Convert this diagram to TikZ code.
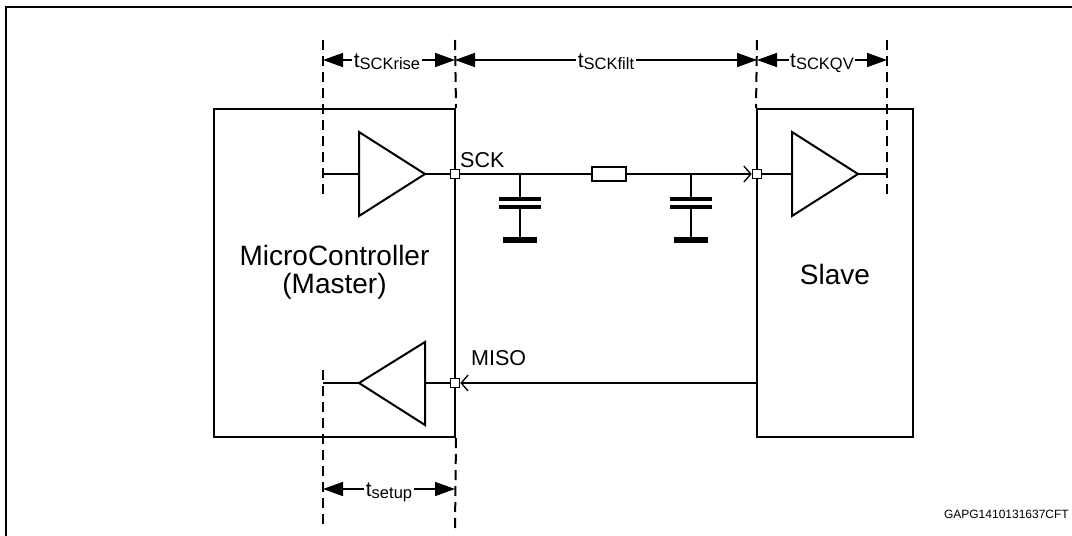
\documentclass[tikz,border=0pt]{standalone}
\usepackage{fontspec}
\setmainfont{Liberation Sans}
\usetikzlibrary{arrows.meta,calc}
\newcommand{\tlab}[1]{{\fontsize{21}{21}\selectfont t}\raisebox{-1.8pt}{\fontsize{16.5}{16.5}\selectfont #1}}
\begin{document}
\begin{tikzpicture}[x=1pt,y=-1pt,
  blockbox/.style={draw, line width=2pt, inner sep=0pt},
  dashv/.style={line width=2pt, dash pattern=on 10pt off 6pt},
  wire/.style={line width=1.3pt},
  lead/.style={line width=2pt},
  tri/.style={line width=2pt, line join=miter},
  pinbox/.style={draw, fill=white, line width=1.6pt, minimum size=9pt, inner sep=0pt},
  resbox/.style={draw, line width=2pt, minimum width=34pt, minimum height=14pt, inner sep=0pt},
  plate/.style={line width=3.5pt},
  gnd/.style={line width=6.5pt},
  dim/.style={line width=1.6pt, {Triangle[length=20pt,width=14pt]}-{Triangle[length=20pt,width=14pt]}},
  dimlbl/.style={fill=white, inner sep=1.5pt, anchor=base},
  bigtxt/.style={font=\fontsize{28}{30}\selectfont, inner sep=0pt, anchor=base},
  sigtxt/.style={font=\fontsize{21.5}{24}\selectfont, inner sep=0pt, anchor=base west},
  openarrow/.style={-{Straight Barb[length=7pt,width=16pt,line width=1.3pt]}}
]
\useasboundingbox (0,0) rectangle (1072,536);

% frame
\coordinate (frBL) at (6,537);
\coordinate (frTL) at (6,7);
\coordinate (frTR) at (1073,7);
\draw[line width=2pt] (frBL) -- (frTL);
\draw[line width=2.5pt] ([xshift=-1pt]frTL) -- (frTR);

% blocks
\node[blockbox, minimum width=241pt, minimum height=328pt] (master) at (334.5,273) {};
\node[blockbox, minimum width=156pt, minimum height=328pt] (slave) at (835,273) {};
\node[bigtxt] (mt1) at (334.5,265) {MicroController};
\node[bigtxt] (mt2) at (334.5,293) {(Master)};
\node[bigtxt] (st) at (835,284) {Slave};

% dashed reference lines
\coordinate (xaT) at (323,40);  \coordinate (xaM) at (323,196);
\coordinate (xaN) at (323,370); \coordinate (xaB) at (323,528);
\coordinate (xbT) at (455,40);  \coordinate (xbB) at (455,528);
\coordinate (xcT) at (757,40);
\coordinate (xdT) at (887,40);  \coordinate (xdM) at (887,196);
\draw[dashv] (xaT) -- (xaM);
\draw[dashv] (xaN) -- (xaB);
\draw[dashv] (xbT) -- (master.north east);
\draw[dashv] (master.south east) -- (xbB);
\draw[dashv] (xcT) -- (slave.north west);
\draw[dashv] (xdT) -- (xdM);

% pins
\node[pinbox] (p1) at (455,174) {};
\node[pinbox] (p2) at (757,174) {};
\node[pinbox] (p3) at (455,383) {};

% master output buffer
\coordinate (b1a) at (359,132); \coordinate (b1b) at (359,216); \coordinate (b1t) at (425,174);
\coordinate (b1i) at (359,174); \coordinate (in1) at (323,174);
\draw[tri] (b1a) -- (b1t) -- (b1b) -- cycle;
\draw[lead] (in1) -- (b1i);
\draw[lead] (b1t) -- (p1.west);

% slave input buffer
\coordinate (b2a) at (792,132); \coordinate (b2b) at (792,216); \coordinate (b2t) at (858,174);
\coordinate (b2i) at (792,174); \coordinate (out2) at (887,174);
\draw[tri] (b2a) -- (b2t) -- (b2b) -- cycle;
\draw[lead] (p2.east) -- (b2i);
\draw[lead] (b2t) -- (out2);

% master input buffer (MISO)
\coordinate (b3a) at (425,342); \coordinate (b3b) at (425,425); \coordinate (b3t) at (359,383);
\coordinate (b3i) at (425,383); \coordinate (out3) at (323,383);
\draw[tri] (b3a) -- (b3t) -- (b3b) -- cycle;
\draw[lead] (p3.west) -- (b3i);
\draw[lead] (b3t) -- (out3);

% SCK RC filter
\node[resbox] (R) at (609,174) {};
\coordinate (c1) at (520,174);
\coordinate (c2) at (691,174);
\draw[wire] (p1.east) -- (R.west);
\draw[wire,openarrow] (R.east) -- (p2.west);
\draw[lead] ($(R.west)+(-35,0)$) -- (R.west);
\draw[lead] (R.east) -- ($(R.east)+(33,0)$);
\foreach \c in {c1,c2}{
  \draw[lead] (\c) -- ++(0,25);
  \draw[plate] (\c) ++(-21,25) -- ++(42,0);
  \draw[plate] (\c) ++(-21,33) -- ++(42,0);
  \draw[lead] (\c) ++(0,33) -- ++(0,33);
  \draw[gnd] (\c) ++(-17,66) -- ++(34,0);
}

% MISO line
\draw[wire,openarrow] (slave.west |- p3) -- (p3.east);
\node[pinbox] at (p3) {};
\node[pinbox] at (p1) {};
\node[pinbox] at (p2) {};

% signal labels
\node[sigtxt] (sck) at (460,167) {SCK};
\node[sigtxt] (miso) at (471,365) {MISO};

% timing dimensions
\coordinate (dA) at (323,60); \coordinate (dB) at (455,60);
\coordinate (dC) at (757,60); \coordinate (dD) at (887,60);
\coordinate (dE) at (323,489); \coordinate (dF) at (455,489);
\draw[dim] (dA) -- (dB);
\draw[dim] (dB) -- (dC);
\draw[dim] (dC) -- (dD);
\draw[dim] (dE) -- (dF);
\node[dimlbl] (lrise) at ($(dA)!0.5!(dB)+(-2,7.5)$) {\tlab{SCKrise}};
\node[dimlbl] (lfilt) at ($(dB)!0.5!(dC)+(0,7.5)$) {\tlab{SCKfilt}};
\node[dimlbl] (lqv) at ($(dC)!0.5!(dD)+(0,7.5)$) {\tlab{SCKQV}};
\node[dimlbl] (lsetup) at ($(dE)!0.5!(dF)+(0,7.5)$) {\tlab{setup}};

% figure id
\node[font=\fontsize{12}{12}\selectfont, inner sep=0pt, anchor=base east] (fid) at (1069,518) {GAPG1410131637CFT};
\end{tikzpicture}
\end{document}
